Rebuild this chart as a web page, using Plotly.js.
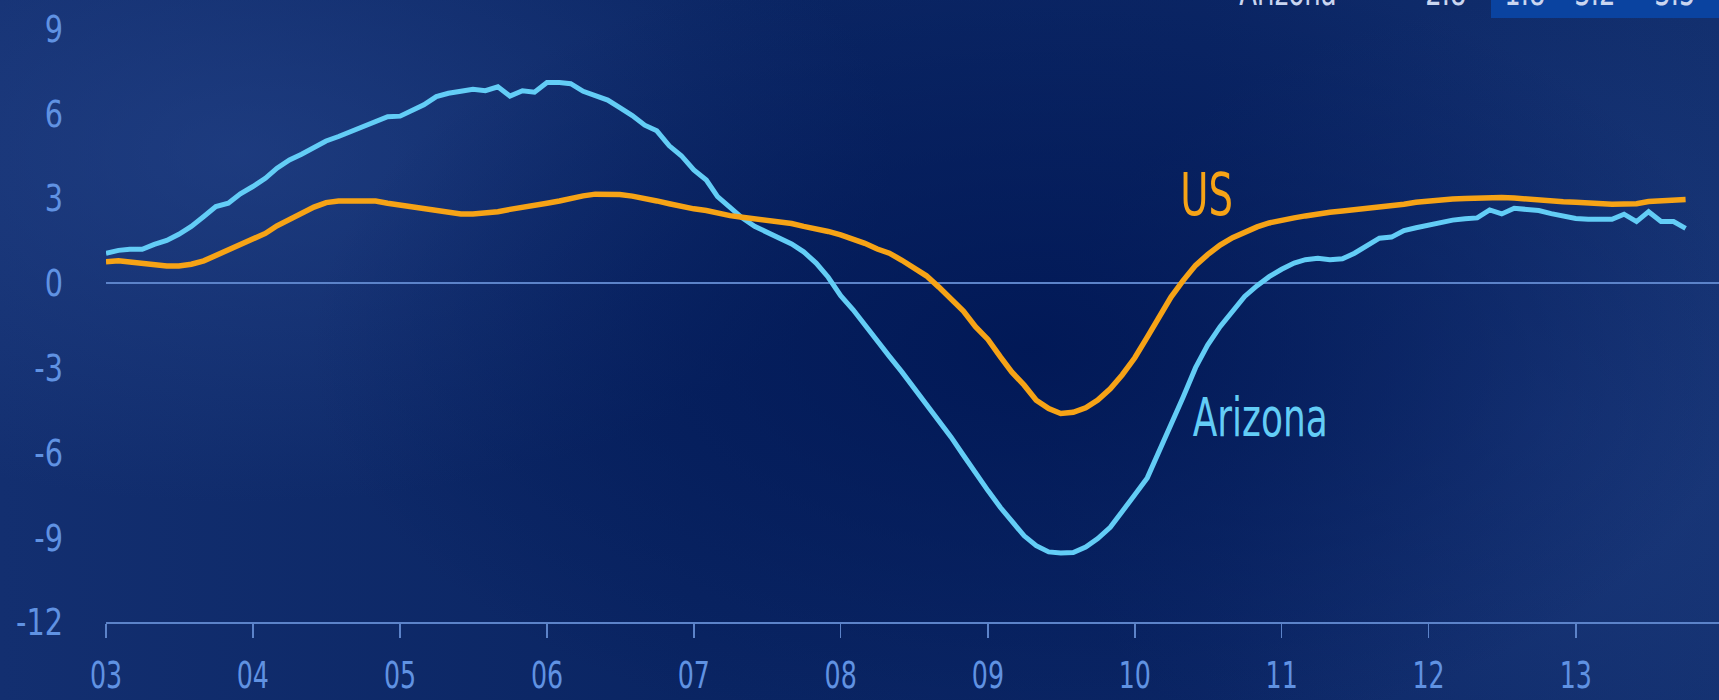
<!DOCTYPE html>
<html>
<head>
<meta charset="utf-8">
<script src="https://cdn.plot.ly/plotly-3.0.1.min.js"></script>
<style>
  html, body { margin: 0; padding: 0; width: 1719px; height: 700px; overflow: hidden; }
  body {
    background:
      radial-gradient(ellipse 42% 58% at 60% 50%, rgba(1,24,86,0.95) 0%, rgba(1,24,86,0) 100%),
      radial-gradient(ellipse 38% 50% at 14% 22%, rgba(45,78,150,0.45) 0%, rgba(45,78,150,0) 100%),
      radial-gradient(ellipse 30% 60% at 90% 60%, rgba(40,72,145,0.35) 0%, rgba(40,72,145,0) 100%),
      linear-gradient(90deg, #132f70 0%, #0a2563 40%, #0b2665 70%, #13306f 100%);
  }
  #chart { width: 1719px; height: 700px; }
</style>
</head>
<body>
<div id="chart"></div>
<script>
// Monthly series, Jan 2003 .. Oct 2013 (percent change, year over year)
const startYear = 2003;
const arizona = [
  1.05, 1.15, 1.19, 1.19, 1.36, 1.50, 1.72, 2.00, 2.35, 2.70, 2.82, 3.15,
  3.41, 3.70, 4.06, 4.35, 4.55, 4.78, 5.02, 5.18, 5.35, 5.55, 5.71, 5.88,
  5.90, 6.12, 6.30, 6.59, 6.71, 6.78, 6.85, 6.80, 6.94, 6.61, 6.80, 6.75,
  7.09, 7.09, 7.05, 6.78, 6.65, 6.47, 6.20, 5.92, 5.58, 5.38, 4.85, 4.50,
  4.00, 3.64, 3.05, 2.64, 2.30, 2.00, 1.80, 1.60, 1.38, 1.10, 0.70, 0.20,
  -0.45, -0.95, -1.50, -2.10, -2.60, -3.15, -3.70, -4.30, -4.90, -5.45, -6.10, -6.75,
  -7.35, -7.95, -8.45, -8.95, -9.30, -9.52, -9.56, -9.54, -9.35, -9.05, -8.65, -8.05,
  -7.50, -6.90, -6.00, -5.10, -4.05, -3.00, -2.20, -1.55, -1.00, -0.48, -0.10, 0.22,
  0.48, 0.70, 0.82, 0.87, 0.82, 0.85, 1.05, 1.30, 1.58, 1.62, 1.85, 1.95,
  2.05, 2.15, 2.22, 2.27, 2.30, 2.58, 2.44, 2.64, 2.58, 2.56, 2.45, 2.35,
  2.28, 2.25, 2.25, 2.25, 2.43, 2.17, 2.52, 2.17, 2.17, 1.93
];
const us = [
  0.75, 0.78, 0.74, 0.70, 0.62, 0.60, 0.60, 0.66, 0.78, 0.97, 1.15, 1.36,
  1.55, 1.75, 2.02, 2.25, 2.48, 2.68, 2.84, 2.90, 2.90, 2.90, 2.90, 2.82,
  2.76, 2.71, 2.64, 2.56, 2.50, 2.44, 2.44, 2.47, 2.52, 2.60, 2.66, 2.74,
  2.82, 2.90, 3.00, 3.08, 3.14, 3.15, 3.13, 3.07, 3.00, 2.90, 2.80, 2.70,
  2.62, 2.56, 2.46, 2.38, 2.32, 2.27, 2.22, 2.17, 2.10, 2.00, 1.93, 1.82,
  1.70, 1.57, 1.40, 1.20, 1.05, 0.80, 0.55, 0.25, -0.15, -0.58, -1.00, -1.55,
  -2.00, -2.62, -3.15, -3.62, -4.15, -4.45, -4.62, -4.58, -4.42, -4.15, -3.75, -3.25,
  -2.65, -1.92, -1.20, -0.50, 0.08, 0.62, 1.00, 1.34, 1.60, 1.81, 1.98, 2.12,
  2.23, 2.30, 2.37, 2.45, 2.50, 2.54, 2.58, 2.63, 2.69, 2.73, 2.78, 2.85,
  2.90, 2.94, 2.97, 2.99, 3.01, 3.02, 3.02, 3.00, 2.96, 2.91, 2.89, 2.87,
  2.85, 2.82, 2.80, 2.78, 2.79, 2.80, 2.88, 2.92, 2.94, 2.95
];
const yTickVals = [-12, -9, -6, -3, 0, 3, 6, 9];
const yTickText = ["-12", "-9", "-6", "-3", "0", "3", "6", "9"];
const xTickVals = ["2003-01-01","2004-01-01","2005-01-01","2006-01-01","2007-01-01","2008-01-01",
                   "2009-01-01","2010-01-01","2011-01-01","2012-01-01","2013-01-01"];
const xTickText = ["03","04","05","06","07","08","09","10","11","12","13"];
const tableRow = ["Arizona", "2.8", "1.8", "3.2", "3.5"];

const months = arizona.map((_, i) => {
  const y = startYear + Math.floor(i / 12);
  const m = (i % 12) + 1;
  return y + "-" + (m < 10 ? "0" + m : m) + "-01";
});

const FONT = "'Liberation Sans Narrow', 'DejaVu Sans Condensed', 'Arial Narrow', sans-serif";
const AXIS_BLUE = "#6092e2";
const LINE_BLUE = "#5c83c9";
const AZ_COLOR = "#63cdf6";
const US_COLOR = "#f6a316";

const traces = [
  { x: months, y: arizona, type: "scatter", mode: "lines", name: "Arizona",
    line: { color: AZ_COLOR, width: 5 }, hoverinfo: "skip" },
  { x: months, y: us, type: "scatter", mode: "lines", name: "US",
    line: { color: US_COLOR, width: 5.5 }, hoverinfo: "skip" }
];

const L = 106, R = 0;
const plotW = 1719 - L - R;
const px = p => (p - L) / plotW;

const tableX = [1288, 1446, 1525, 1595, 1675];
const annotations = [
  { x: "2010-06-27", y: 3.1, xref: "x", yref: "y", text: "US", showarrow: false,
    font: { family: FONT, size: 58, color: US_COLOR }, xanchor: "center", yanchor: "middle" },
  { x: "2010-11-07", y: -4.78, xref: "x", yref: "y", text: "Arizona", showarrow: false,
    font: { family: FONT, size: 54, color: AZ_COLOR }, xanchor: "center", yanchor: "middle" }
];
tableRow.forEach((t, i) => {
  annotations.push({ x: px(tableX[i]), y: 1, xref: "paper", yref: "paper", text: t,
    showarrow: false, xanchor: "center", yanchor: "bottom", yshift: -16,
    font: { family: FONT, size: 39, color: "#c9d5f0" } });
});

const layout = {
  width: 1719, height: 700,
  margin: { l: L, r: R, t: 0, b: 78, pad: 0 },
  paper_bgcolor: "rgba(0,0,0,0)",
  plot_bgcolor: "rgba(0,0,0,0)",
  showlegend: false,
  font: { family: FONT, color: AXIS_BLUE },
  xaxis: {
    type: "date",
    range: ["2003-01-01", "2013-12-23"],
    tickvals: xTickVals, ticktext: xTickText,
    ticks: "outside", ticklen: 14, tickwidth: 1.5, tickcolor: LINE_BLUE,
    showline: true, linecolor: LINE_BLUE, linewidth: 1.5,
    showgrid: false, zeroline: false,
    tickfont: { family: FONT, size: 37, color: AXIS_BLUE },
    ticklabelstandoff: 6
  },
  yaxis: {
    range: [-12, 10.01],
    tickvals: yTickVals, ticktext: yTickText,
    ticks: "", showline: false, showgrid: false,
    zeroline: true, zerolinecolor: LINE_BLUE, zerolinewidth: 1.5,
    tickfont: { family: FONT, size: 38, color: AXIS_BLUE },
    ticklabelstandoff: 42
  },
  shapes: [
    { type: "rect", xref: "paper", yref: "paper", x0: px(1491), x1: 1.01,
      y0: 1 - 18 / 622, y1: 1.05, fillcolor: "#0a43a0", line: { width: 0 }, layer: "below" }
  ],
  annotations: annotations
};

// Narrow the glyphs horizontally around each text's anchor (the installed fonts are wider
// than the condensed face of the original).
function condense(sel, s) {
  document.querySelectorAll(sel).forEach(t => {
    const x = parseFloat(t.getAttribute("x")) || 0;
    const prev = t.getAttribute("transform") || "";
    t.setAttribute("transform", prev + " translate(" + x + ",0) scale(" + s + ",1) translate(" + (-x) + ",0)");
  });
}

Plotly.newPlot("chart", traces, layout, { staticPlot: true, displayModeBar: false }).then(() => {
  condense(".xtick text", 0.76);
  condense(".ytick text", 0.84);
  condense(".annotation-text", 0.74);
});
</script>
</body>
</html>
